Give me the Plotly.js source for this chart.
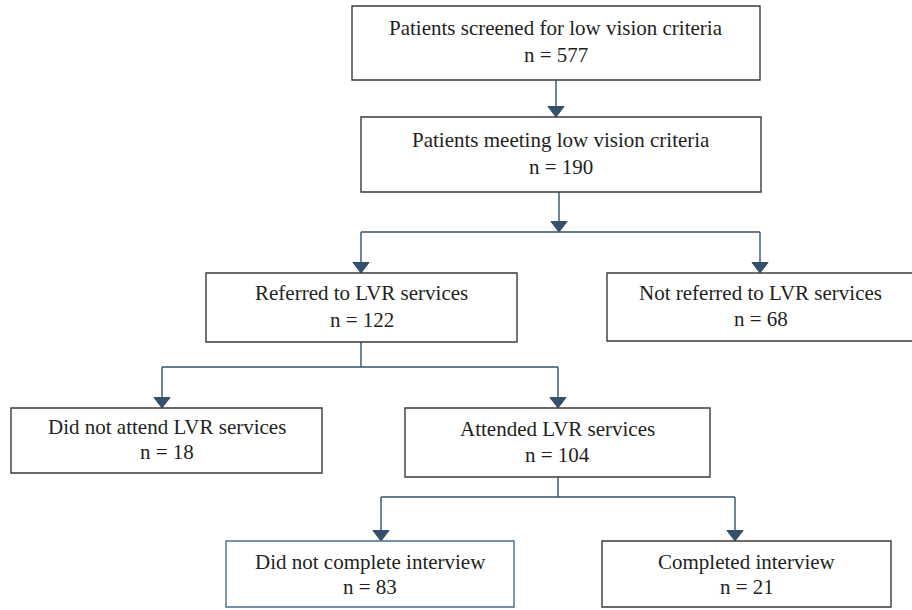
<!DOCTYPE html>
<html>
<head>
<meta charset="utf-8">
<script src="https://cdn.plot.ly/plotly-3.0.1.min.js"></script>
<style>
  html, body { margin: 0; padding: 0; background: #fff; }
  #chart { width: 912px; height: 610px; }
</style>
</head>
<body>
<div id="chart"></div>
<script>
// flowchart content
const labels = [
  "Patients screened for low vision criteria",
  "Patients meeting low vision criteria",
  "Referred to LVR services",
  "Not referred to LVR services",
  "Did not attend LVR services",
  "Attended LVR services",
  "Did not complete interview",
  "Completed interview"
];
const counts = [577, 190, 122, 68, 18, 104, 83, 21];
// parent -> children
const links = [[0, [1]], [1, [2, 3]], [2, [4, 5]], [5, [6, 7]]];

// box geometry in page pixels: x0, x1, y0, y1
const boxes = [
  [352, 760, 6, 80],
  [361, 761, 117, 192],
  [206, 517, 273, 342],
  [607, 914, 273, 341],
  [11, 322, 408, 473],
  [405, 710, 408, 477],
  [226, 514, 541, 607],
  [602, 891, 541, 607]
];
const textY = [[28, 55], [140, 167], [293, 320], [293, 319], [427, 452], [429, 455], [562, 587], [562, 587]];
const arrowX = [[556], [361, 760], [162, 558], [381, 735]];
const stemX = [556, 559, 361, 558];
const branchY = [null, 232, 367, 497];
const stemArrow = [true, true, false, false];

const lineCol = "#34506b";
const font = { family: "Liberation Serif, Times New Roman, serif", size: 21, color: "#231f20" };

const shapes = boxes.map((b, i) => ({
  type: "rect", xref: "x", yref: "y",
  x0: b[0], x1: b[1], y0: b[2], y1: b[3],
  line: { color: i === 6 ? "#4a6d8f" : "#3a3a3a", width: 1.4 },
  fillcolor: "rgba(0,0,0,0)"
}));

const annotations = [];
labels.forEach((t, i) => {
  const cx = (boxes[i][0] + boxes[i][1]) / 2;
  annotations.push({ x: cx, y: textY[i][0], text: t, showarrow: false, font: font, xanchor: "center", yanchor: "middle" });
  annotations.push({ x: cx, y: textY[i][1], text: "n = " + counts[i], showarrow: false, font: font, xanchor: "center", yanchor: "middle" });
});

// connector lines and arrowheads
const lx = [], ly = [];
const hx = [], hy = [];
const head = 7;
links.forEach((lk, k) => {
  const p = boxes[lk[0]];
  const kids = lk[1];
  if (kids.length === 1) {
    const c = boxes[kids[0]];
    lx.push(stemX[k], stemX[k], null);
    ly.push(p[3], c[2] - 6, null);
    hx.push(arrowX[k][0]); hy.push(c[2] - head);
    return;
  }
  const by = branchY[k];
  lx.push(stemX[k], stemX[k], null);
  ly.push(p[3], stemArrow[k] ? by - 6 : by, null);
  if (stemArrow[k]) { hx.push(stemX[k]); hy.push(by - head); }
  lx.push(arrowX[k][0], arrowX[k][1], null);
  ly.push(by, by, null);
  kids.forEach((ci, j) => {
    const c = boxes[ci];
    lx.push(arrowX[k][j], arrowX[k][j], null);
    ly.push(by, c[2] - 6, null);
    hx.push(arrowX[k][j]); hy.push(c[2] - head);
  });
});

const data = [
  {
    type: "scatter", mode: "lines", x: lx, y: ly,
    line: { color: lineCol, width: 1.4 }, hoverinfo: "skip", showlegend: false
  },
  {
    type: "scatter", mode: "markers", x: hx, y: hy,
    marker: { symbol: "triangle-down", size: 14, color: lineCol, line: { color: lineCol, width: 1 } },
    hoverinfo: "skip", showlegend: false
  }
];

const layout = {
  width: 912, height: 610,
  margin: { l: 0, r: 0, t: 0, b: 0 },
  paper_bgcolor: "#fff", plot_bgcolor: "#fff",
  showlegend: false,
  xaxis: { range: [0, 912], visible: false, fixedrange: true },
  yaxis: { range: [610, 0], visible: false, fixedrange: true },
  shapes: shapes,
  annotations: annotations
};

Plotly.newPlot("chart", data, layout, { displayModeBar: false, staticPlot: true });
</script>
</body>
</html>
